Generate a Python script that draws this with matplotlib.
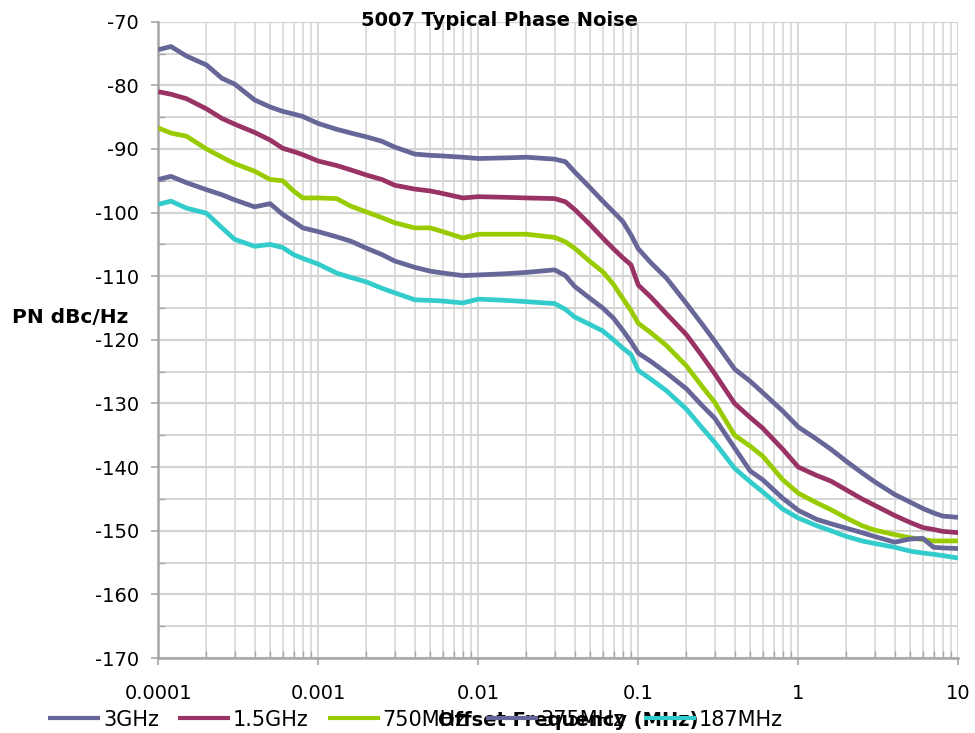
import matplotlib
matplotlib.use("Agg")
import matplotlib.pyplot as plt
from matplotlib.ticker import FixedLocator, MultipleLocator, NullFormatter

# ---------------- data ----------------
freq_mhz = [1e-4, 1.2e-4, 1.5e-4, 2e-4, 2.5e-4, 3e-4, 4e-4, 5e-4, 6e-4, 7e-4, 8e-4,
            1e-3, 1.3e-3, 1.6e-3, 2e-3, 2.5e-3, 3e-3, 4e-3, 5e-3, 6e-3, 8e-3,
            1e-2, 1.5e-2, 2e-2, 3e-2, 3.5e-2, 4e-2, 5e-2, 6e-2, 7e-2, 8e-2, 9e-2,
            0.1, 0.12, 0.15, 0.2, 0.25, 0.3, 0.4, 0.5, 0.6, 0.8,
            1, 1.3, 1.6, 2, 2.5, 3, 4, 5, 6, 7, 8, 10]

pn_3ghz = [-74.4, -73.9, -75.4, -76.8, -78.9, -79.8, -82.3, -83.4, -84.1, -84.5, -84.9,
           -86.0, -86.9, -87.5, -88.1, -88.8, -89.7, -90.8, -91.0, -91.1, -91.3,
           -91.5, -91.4, -91.3, -91.6, -92.0, -93.6, -96.1, -98.2, -99.9, -101.4, -103.5,
           -105.7, -107.9, -110.3, -114.3, -117.5, -120.2, -124.6, -126.5, -128.3, -131.2,
           -133.7, -135.6, -137.2, -139.1, -140.9, -142.3, -144.3, -145.5, -146.5, -147.2, -147.7, -147.9]

pn_1g5 = [-81.0, -81.4, -82.1, -83.7, -85.2, -86.1, -87.4, -88.6, -89.9, -90.4, -90.9,
          -91.9, -92.6, -93.3, -94.1, -94.8, -95.7, -96.3, -96.6, -97.0, -97.7,
          -97.5, -97.6, -97.7, -97.8, -98.3, -99.5, -101.9, -104.0, -105.7, -107.1, -108.2,
          -111.4, -113.3, -115.9, -119.2, -122.5, -125.3, -130.0, -132.2, -133.9, -137.2,
          -140.0, -141.3, -142.2, -143.6, -145.0, -146.0, -147.6, -148.7, -149.5, -149.8, -150.1, -150.3]

pn_750m = [-86.7, -87.5, -88.0, -90.0, -91.3, -92.3, -93.5, -94.8, -95.0, -96.6, -97.7,
           -97.7, -97.8, -99.0, -99.9, -100.8, -101.6, -102.4, -102.4, -103.0, -104.0,
           -103.4, -103.4, -103.4, -103.9, -104.6, -105.6, -107.7, -109.3, -111.3, -113.5, -115.4,
           -117.4, -118.9, -120.9, -124.1, -127.3, -129.8, -135.0, -136.7, -138.3, -142.0,
           -144.1, -145.6, -146.7, -148.0, -149.2, -149.9, -150.6, -151.1, -151.4, -151.6, -151.6, -151.6]

pn_375m = [-94.8, -94.3, -95.3, -96.4, -97.2, -98.0, -99.1, -98.6, -100.3, -101.4, -102.4,
           -103.0, -103.8, -104.5, -105.6, -106.6, -107.6, -108.6, -109.2, -109.5, -109.9,
           -109.8, -109.6, -109.4, -109.0, -109.9, -111.6, -113.5, -115.0, -116.6, -118.5, -120.3,
           -122.1, -123.4, -125.2, -127.7, -130.3, -132.3, -137.0, -140.6, -142.0, -144.9,
           -146.8, -148.2, -148.9, -149.6, -150.3, -150.9, -151.8, -151.3, -151.2, -152.6, -152.7, -152.8]

pn_187m = [-98.7, -98.2, -99.3, -100.1, -102.4, -104.2, -105.3, -105.0, -105.5, -106.6, -107.2,
           -108.1, -109.5, -110.2, -110.9, -111.9, -112.6, -113.7, -113.8, -113.9, -114.2,
           -113.6, -113.8, -114.0, -114.3, -115.2, -116.4, -117.6, -118.6, -120.0, -121.3, -122.3,
           -124.8, -126.2, -128.0, -130.9, -133.8, -136.1, -140.2, -142.3, -143.9, -146.6,
           -148.0, -149.2, -150.0, -150.9, -151.6, -152.0, -152.6, -153.2, -153.5, -153.7, -153.9, -154.3]

series_names = ["3GHz", "1.5GHz", "750MHz", "375MHz", "187MHz"]
series_values = [pn_3ghz, pn_1g5, pn_750m, pn_375m, pn_187m]
series_colors = ["#666699", "#993366", "#99CC00", "#666699", "#33CCCC"]

x_ticks = [1e-4, 1e-3, 1e-2, 1e-1, 1, 10]
x_tick_labels = ["0.0001", "0.001", "0.01", "0.1", "1", "10"]
y_ticks = [-170, -160, -150, -140, -130, -120, -110, -100, -90, -80, -70]
y_tick_labels = [str(v) for v in y_ticks]

title = "5007 Typical Phase Noise"
x_title = "Offset Frequency (MHz)"
y_title = "PN dBc/Hz"

# ---------------- figure ----------------
plt.rcParams["font.family"] = ["DejaVu Sans"]
plt.rcParams["axes.unicode_minus"] = False

W, H = 975, 733
fig = plt.figure(figsize=(W / 100, H / 100), dpi=100)
left, right, top, bottom = 158.3, 958.3, 21.7, 658.0
ax = fig.add_axes([left / W, 1 - bottom / H, (right - left) / W, (bottom - top) / H])

ax.set_xscale("log")
ax.set_xlim(1e-4, 10)
ax.set_ylim(-170, -70)

lines = []
for name, vals, col in zip(series_names, series_values, series_colors):
    ln, = ax.plot(freq_mhz, vals, color=col, lw=3.4, label=name,
                  solid_joinstyle="round", solid_capstyle="butt", zorder=3)
    lines.append(ln)

ax.xaxis.set_major_locator(FixedLocator(x_ticks))
ax.set_xticklabels(x_tick_labels)
minor_x = [m * d for d in [1e-4, 1e-3, 1e-2, 1e-1, 1] for m in range(2, 10)]
ax.xaxis.set_minor_locator(FixedLocator(minor_x))
ax.xaxis.set_minor_formatter(NullFormatter())
ax.yaxis.set_major_locator(FixedLocator(y_ticks))
ax.set_yticklabels(y_tick_labels)
ax.yaxis.set_minor_locator(MultipleLocator(5))

grid_col = "#D4D4D4"
ax.grid(which="major", axis="y", color=grid_col, lw=1.6, zorder=0)
ax.grid(which="minor", axis="y", color=grid_col, lw=1.4, zorder=0)
ax.grid(which="major", axis="x", color=grid_col, lw=1.3, zorder=0)
ax.grid(which="minor", axis="x", color=grid_col, lw=1.1, zorder=0)
ax.set_axisbelow(True)

axis_col = "#A6A6A6"
for s in ["top", "right"]:
    ax.spines[s].set_visible(False)
for s in ["left", "bottom"]:
    ax.spines[s].set_color(axis_col)
    ax.spines[s].set_linewidth(1.8)

ax.tick_params(axis="both", which="major", direction="out", length=5, width=1.2,
               color=axis_col, labelsize=14, labelcolor="black")
ax.tick_params(axis="both", which="minor", direction="in", length=5, width=1.0,
               color=axis_col)
ax.tick_params(axis="x", which="major", pad=14)
ax.tick_params(axis="y", which="major", pad=9)

fig.text(500 / W, 1 - 26.5 / H, title, ha="center", va="baseline",
         fontsize=14, fontweight="bold")
fig.text(12 / W, 1 - 323 / H, y_title, ha="left", va="baseline",
         fontsize=14.5, fontweight="bold")

leg = fig.legend(handles=lines, loc="center left", bbox_to_anchor=(48 / W, 1 - 719.5 / H),
                 ncol=5, frameon=False, fontsize=15, handlelength=2.5,
                 handletextpad=0.15, columnspacing=0.9, borderpad=0, borderaxespad=0)
for lh in leg.get_lines():
    lh.set_linewidth(3.0)

fig.text(568 / W, 1 - 726 / H, x_title, ha="center", va="baseline",
         fontsize=14, fontweight="bold")

fig.savefig("out.png", dpi=100)
